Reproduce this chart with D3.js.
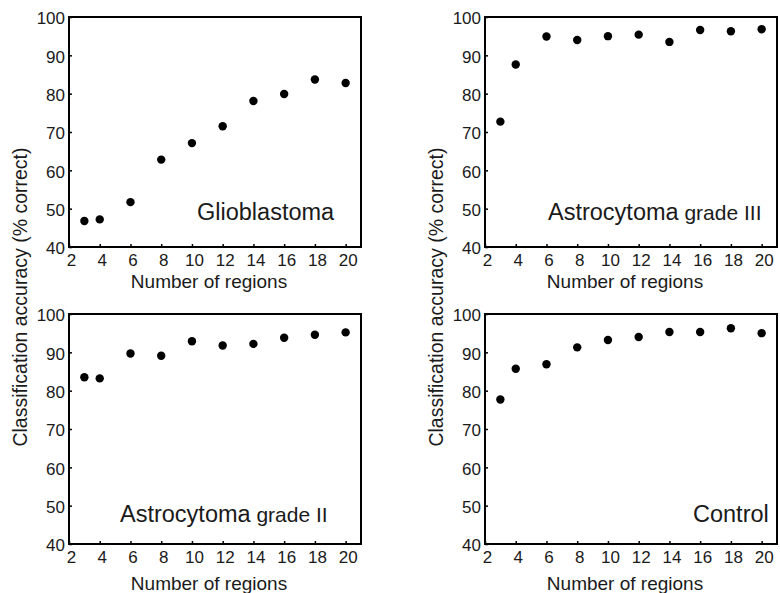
<!DOCTYPE html>
<html>
<head>
<meta charset="utf-8">
<script src="https://cdn.jsdelivr.net/npm/d3@7"></script>
<style>
  body { margin: 0; background: #fff; }
  text { font-family: "Liberation Sans", Arial, sans-serif; fill: #1a1a1a; }
</style>
</head>
<body>
<div id="chart"></div>
<script>
// number of regions used on the x axis
const regions = [3, 4, 6, 8, 10, 12, 14, 16, 18, 20];

// classification accuracy (% correct)
const glioblastoma = [46.8, 47.2, 51.7, 62.8, 67.1, 71.5, 78.1, 79.9, 83.7, 82.8];
const astroIII = [72.7, 87.6, 94.9, 94.0, 95.0, 95.4, 93.5, 96.6, 96.3, 96.8];
const astroII = [83.5, 83.2, 89.7, 89.1, 92.9, 91.8, 92.2, 93.8, 94.6, 95.2];
const control = [77.7, 85.7, 86.9, 91.3, 93.2, 94.0, 95.3, 95.3, 96.3, 95.0];

const xTicks = [2, 4, 6, 8, 10, 12, 14, 16, 18, 20];
const yTicks = [40, 50, 60, 70, 80, 90, 100];

const xTitle = "Number of regions";
const yTitle = "Classification accuracy (% correct)";

const width = 780;
const height = 593;
const pw = 292;
const ph = 230;

const panels = [
  { values: glioblastoma, left: 69, top: 17, big: "Glioblastoma", small: "", lx: 128, ly: 203, tOff: 41 },
  { values: astroIII, left: 485, top: 17, big: "Astrocytoma", small: " grade III", lx: 63, ly: 203, tOff: 41 },
  { values: astroII, left: 69, top: 314, big: "Astrocytoma", small: " grade II", lx: 51, ly: 208, tOff: 46 },
  { values: control, left: 485, top: 314, big: "Control", small: "", lx: 208, ly: 208, tOff: 46 }
];

const svg = d3.select("#chart")
  .append("svg")
  .attr("width", width)
  .attr("height", height);

const x = d3.scaleLinear().domain([2, 21]).range([0, pw]);
const y = d3.scaleLinear().domain([40, 100]).range([ph, 0]);

panels.forEach((p) => {
  const g = svg.append("g").attr("transform", `translate(${p.left},${p.top})`);

  const xAxis = g.append("g")
    .attr("transform", `translate(0,${ph})`)
    .call(d3.axisBottom(x).tickValues(xTicks).tickSizeInner(-3).tickSizeOuter(0).tickPadding(7));
  xAxis.select(".domain").remove();
  xAxis.selectAll("text").attr("font-size", 17).attr("dx", 2);

  const yAxis = g.append("g")
    .call(d3.axisLeft(y).tickValues(yTicks).tickSizeInner(-3).tickSizeOuter(0).tickPadding(4));
  yAxis.select(".domain").remove();
  yAxis.selectAll("text").attr("font-size", 17).attr("dy", "0.4em");
  g.selectAll(".tick line").attr("stroke", "#000").attr("stroke-width", 1.5);
  g.selectAll(".tick text").style("fill", "#1a1a1a").attr("font-family", null);

  g.append("rect")
    .attr("width", pw)
    .attr("height", ph)
    .attr("fill", "none")
    .attr("stroke", "#000")
    .attr("stroke-width", 2);

  g.selectAll("circle")
    .data(regions.map((r, i) => ({ r: r, v: p.values[i] })))
    .join("circle")
    .attr("cx", (d) => x(d.r))
    .attr("cy", (d) => y(d.v))
    .attr("r", 4.2)
    .attr("fill", "#000");

  const label = g.append("text")
    .attr("x", p.lx)
    .attr("y", p.ly)
    .attr("font-size", 23.5);
  label.append("tspan").text(p.big);
  if (p.small) label.append("tspan").attr("font-size", 21).text(p.small);

  g.append("text")
    .attr("x", pw / 2 - 6)
    .attr("y", ph + p.tOff)
    .attr("text-anchor", "middle")
    .attr("font-size", 19)
    .text(xTitle);
});

// one y title per column, centred on the whole figure height
[20, 436].forEach((cx) => {
  svg.append("text")
    .attr("transform", `translate(${cx},297) rotate(-90)`)
    .attr("text-anchor", "middle")
    .attr("dy", "0.35em")
    .attr("font-size", 19.5)
    .text(yTitle);
});
</script>
</body>
</html>
